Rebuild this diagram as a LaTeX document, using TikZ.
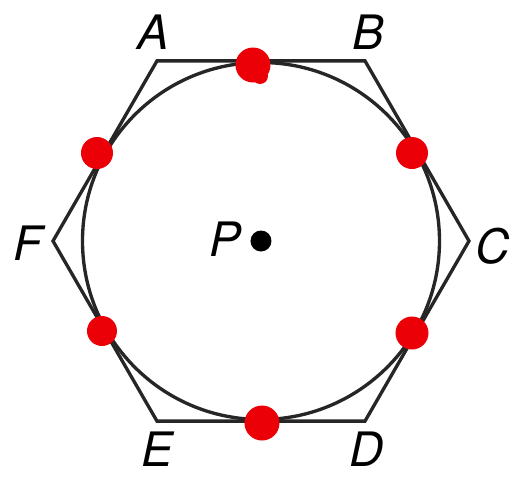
\documentclass[tikz,border=0pt]{standalone}
\usepackage{fontspec}
\setmainfont{TeX Gyre Heros}
\usepackage{tikz}
\usetikzlibrary{positioning,calc}
\definecolor{markred}{RGB}{235,0,8}

\begin{document}
\begin{tikzpicture}[
    edge/.style={line width=1.9pt, black!85, line join=miter},
    lbl/.style={font=\fontsize{27}{27}\selectfont\itshape, inner sep=0pt},
    blob/.style={fill=markred, draw=none}
]
\useasboundingbox (-5.22,-4.70) rectangle (5.14,4.82);
% Hexagon vertices
\coordinate (A) at (120:4.16);
\coordinate (B) at (60:4.16);
\coordinate (C) at (0:4.16);
\coordinate (D) at (-60:4.16);
\coordinate (E) at (-120:4.16);
\coordinate (F) at (180:4.16);
\draw[edge] (A) -- (B) -- (C) -- (D) -- (E) -- (F) -- cycle;

% Inscribed circle
\coordinate (P) at (0,0);
\draw[edge] (P) circle (3.57);
\fill (P) circle (0.21);

% Tangent points
\fill[blob] (-0.16,3.52) circle (0.35);
\fill[blob] (-0.02,3.30) circle (0.16);
\fill[blob] (0.02,-3.64) circle (0.35);
\fill[blob] (3.02,1.76) circle (0.32);
\fill[blob] (3.02,-1.84) circle (0.33);
\fill[blob] (-3.28,1.76) circle (0.32);
\fill[blob] (-3.18,-1.80) circle (0.3);

% Labels
\node[lbl] (la) at (-2.16,4.18) {A};
\node[lbl] (lb) at (2.14,4.18) {B};
\node[lbl] (lc) at (4.64,-0.10) {C};
\node[lbl] (ld) at (2.12,-4.16) {D};
\node[lbl] (le) at (-2.08,-4.16) {E};
\node[lbl] (lf) at (-4.66,-0.04) {F};
\node[lbl] (lp) at (-0.72,0.04) {P};
\end{tikzpicture}
\end{document}
